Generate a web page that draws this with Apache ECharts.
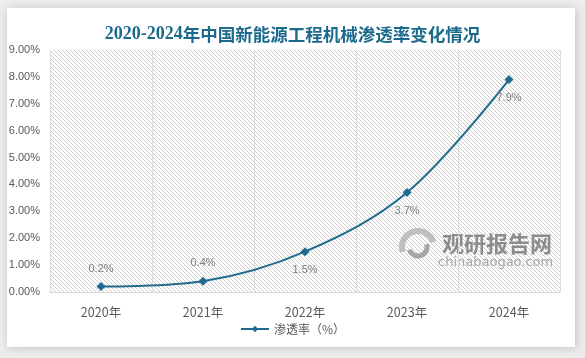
<!DOCTYPE html>
<html><head><meta charset="utf-8">
<script src="https://cdn.jsdelivr.net/npm/echarts@6/dist/echarts.min.js"></script>
<style>html,body{margin:0;padding:0;background:#ececec;}#c{width:585px;height:358px;}</style>
</head><body><div id="c"></div>
<script>
var categories = ['2020年','2021年','2022年','2023年','2024年'];
var penetration = [0.2, 0.4, 1.5, 3.7, 7.9];
var seriesName = '渗透率（%）';
var titleYears = '2020-2024';
var titleRest = '年中国新能源工程机械渗透率变化情况';

var pc = document.createElement('canvas');
pc.width = 4; pc.height = 4;
var g = pc.getContext('2d');
g.fillStyle = '#ffffff'; g.fillRect(0,0,4,4);
g.strokeStyle = '#cccccc'; g.lineWidth = 1;
g.beginPath();
g.moveTo(-1,-1); g.lineTo(5,5);
g.moveTo(-1,3); g.lineTo(1,5);
g.moveTo(3,-1); g.lineTo(5,1);
g.stroke();

var chart = echarts.init(document.getElementById('c'), null, {renderer:'canvas'});
var labelPos = ['top','top','bottom','bottom','bottom'];
chart.setOption({
  animation:false,
  backgroundColor:'#ececec',
  graphic:[
    {type:'rect', z:-10, shape:{x:7,y:8,width:568,height:339}, style:{fill:'#fff', shadowBlur:8, shadowColor:'rgba(0,0,0,0.18)', shadowOffsetX:1, shadowOffsetY:1}},
    {type:'group', z:5, children:[
      {type:'arc', shape:{cx:418,cy:247,r:16,startAngle:Math.PI*0.9,endAngle:Math.PI*1.9}, style:{stroke:'#bfbfbf',lineWidth:6,fill:null}},
      {type:'arc', shape:{cx:418,cy:247,r:9,startAngle:Math.PI*-0.1,endAngle:Math.PI*0.9}, style:{stroke:'#a6a6a6',lineWidth:5,fill:null}},
      {type:'text', style:{x:442,y:244,text:'观研报告网',font:'bold 22px "Noto Sans CJK SC"',fill:'#8c8c8c',textVerticalAlign:'middle'}},
      {type:'text', style:{x:438,y:263,text:'chinabaogao.com',font:'13px "DejaVu Sans"',fill:'#a6a6a6',textVerticalAlign:'middle'}}
    ]}
  ],
  title:{text:'{a|'+titleYears+'}{b|'+titleRest+'}', left:'center', top:20,
    textStyle:{rich:{
      a:{fontFamily:'"Liberation Serif"', fontWeight:'bold', fontSize:18, color:'#1b6a8c'},
      b:{fontFamily:'"Noto Sans CJK SC"', fontWeight:'bold', fontSize:17.5, color:'#1b6a8c'}
    }}},
  grid:{left:50, right:25, top:50, bottom:66, show:true, borderWidth:0, backgroundColor:{image:pc, repeat:'repeat'}},
  legend:{bottom:18, left:'center', itemWidth:28, itemHeight:8, data:[{name:seriesName}], textStyle:{color:'#595959', fontSize:12, fontFamily:'"Noto Sans CJK SC"'}},
  xAxis:{type:'category', data:categories, boundaryGap:true,
    axisLine:{lineStyle:{color:'#d9d9d9'}}, axisTick:{show:false},
    splitLine:{show:true, lineStyle:{color:'#dcdcdc'}},
    axisLabel:{color:'#595959', fontSize:12.5, margin:14, fontFamily:'"Noto Sans CJK SC"'}},
  yAxis:{type:'value', min:0, max:9, interval:1,
    axisLine:{show:false}, axisTick:{show:false}, splitLine:{show:false},
    axisLabel:{color:'#595959', fontSize:11, margin:10, fontFamily:'"Liberation Sans"', formatter:function(v){return v.toFixed(2)+'%';}}},
  series:[{name:seriesName, type:'line', data:penetration.map(function(v,i){return {value:v, label:{position:labelPos[i]}};}),
    smooth:0.35, symbol:'diamond', symbolSize:9, z:10,
    lineStyle:{color:'#1f6a8e', width:2}, itemStyle:{color:'#1f6a8e'},
    label:{show:true, color:'#7f7f7f', fontSize:11, fontFamily:'"Liberation Sans"', distance:8, formatter:function(p){return p.value+'%';}}}]
});
</script></body></html>
